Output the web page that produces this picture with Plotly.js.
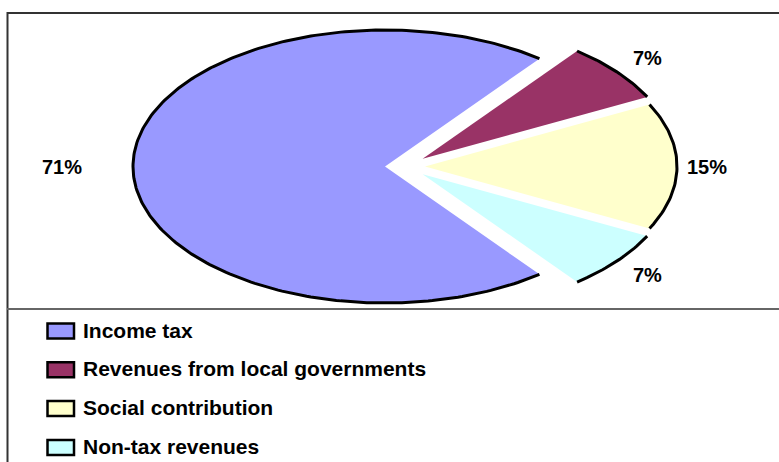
<!DOCTYPE html>
<html>
<head>
<meta charset="utf-8">
<script src="https://cdn.plot.ly/plotly-3.0.1.min.js"></script>
<style>
  html, body { margin: 0; padding: 0; background: #ffffff; }
  #chart { width: 779px; height: 462px; }
</style>
</head>
<body>
<div id="chart"></div>
<script>
// ---- data ----
const categories = ["Income tax", "Revenues from local governments", "Social contribution", "Non-tax revenues"];
const values = [71, 7, 15, 7];

// ---- style ----
const sliceColors = ["#9999FF", "#993366", "#FFFFCC", "#CCFFFF"];
const exploded = [false, true, true, true];
const labelDist = [1.28, 1.16, 1.12, 1.16];

// geometry of the ellipse (pixel units of the axes)
const cx = 385, cy = 166.5, rx = 252, ry = 136.5;
const rad = d => d * Math.PI / 180;

const total = values.reduce((a, b) => a + b, 0);
const startAngle = 180 + (values[0] / total) * 180; // main slice centred on the left

const traces = [];
const annotations = [];
let cum = 0;
values.forEach((v, i) => {
  const a1 = startAngle - (cum / total) * 360;
  const a2 = a1 - (v / total) * 360;
  cum += v;
  const mid = (a1 + a2) / 2;
  let dx = 0, dy = 0;
  if (exploded[i]) {
    dx = 40 * Math.cos(rad(mid / 2));
    dy = -12 * Math.sin(rad(mid));
  }
  const ax = [], ay = [];
  const n = Math.max(8, Math.ceil(Math.abs(a1 - a2)));
  for (let k = 0; k <= n; k++) {
    const a = a1 + (a2 - a1) * k / n;
    ax.push(cx + rx * Math.cos(rad(a)) + dx);
    ay.push(cy - ry * Math.sin(rad(a)) + dy);
  }
  const px = [cx + dx, ...ax, cx + dx];
  const py = [cy + dy, ...ay, cy + dy];
  traces.push({
    type: "scatter", mode: "lines", x: px, y: py,
    fill: "toself", fillcolor: sliceColors[i],
    line: { width: 0, color: sliceColors[i] },
    hoverinfo: "skip", showlegend: false
  });
  traces.push({
    type: "scatter", mode: "lines", x: ax, y: ay,
    line: { width: 3, color: "#000000" },
    hoverinfo: "skip", showlegend: false
  });
  const pct = Math.round(v / total * 100) + "%";
  annotations.push({
    x: cx + dx + rx * labelDist[i] * Math.cos(rad(mid)),
    y: cy + dy - ry * labelDist[i] * Math.sin(rad(mid)),
    xref: "x", yref: "y", text: "<b>" + pct + "</b>", showarrow: false,
    xanchor: "center", yanchor: "middle",
    font: { family: "Liberation Sans, Arial, sans-serif", size: 20, color: "#000000" }
  });
});

// frame and legend (drawn below the plot frame)
const shapes = [
  { type: "line", xref: "x", yref: "y", x0: 7, x1: 779, y0: 13, y1: 13, line: { color: "#333333", width: 2 } },
  { type: "line", xref: "x", yref: "y", x0: 7.5, x1: 7.5, y0: 12, y1: 462, line: { color: "#333333", width: 2 } },
  { type: "line", xref: "x", yref: "y", x0: 7, x1: 779, y0: 309, y1: 309, line: { color: "#666666", width: 2 } }
];
categories.forEach((c, i) => {
  const yc = 330 + 38.8 * i;
  shapes.push({
    type: "rect", xref: "x", yref: "y",
    x0: 47.5, x1: 74, y0: yc - 6.5, y1: yc + 8.5,
    fillcolor: sliceColors[i], line: { color: "#000000", width: 2.5 }
  });
  annotations.push({
    x: 81, y: yc, xref: "x", yref: "y", text: "<b>" + c + "</b>", showarrow: false,
    xanchor: "left", yanchor: "middle",
    font: { family: "Liberation Sans, Arial, sans-serif", size: 21, color: "#000000" }
  });
});

const layout = {
  width: 779, height: 462,
  margin: { l: 0, r: 0, t: 0, b: 0, pad: 0 },
  paper_bgcolor: "#ffffff", plot_bgcolor: "#ffffff",
  showlegend: false, hovermode: false,
  xaxis: { range: [0, 779], visible: false, fixedrange: true },
  yaxis: { range: [462, 0], visible: false, fixedrange: true },
  shapes: shapes, annotations: annotations
};

Plotly.newPlot("chart", traces, layout, { displayModeBar: false, staticPlot: true });
</script>
</body>
</html>
